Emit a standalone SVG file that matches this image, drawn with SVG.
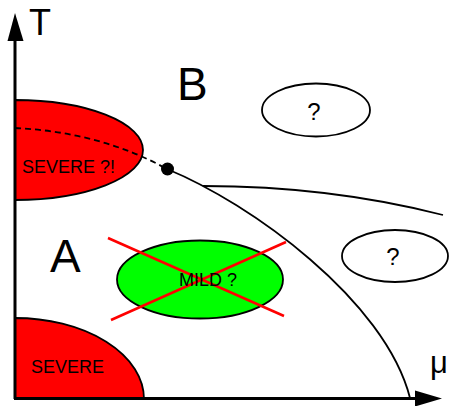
<svg xmlns="http://www.w3.org/2000/svg" width="451" height="406" viewBox="0 0 451 406">
<style>
text{font-family:"Liberation Sans",Arial,sans-serif;fill:#000}
.ln{fill:none;stroke:#000;stroke-width:1.8}
.ax{fill:none;stroke:#000;stroke-width:3}
.cross{stroke:#ff0000;stroke-width:2.5}
.lbl{font-size:18px}
.q{font-size:24px;text-anchor:middle}
.big{font-size:46px}
</style>
<rect width="451" height="406" fill="#fff"/>
<g id="severe-top">
<path d="M15,100 A128,50 0 0 1 15,200 Z" fill="#ff0000" stroke="#000" stroke-width="1.8"/>
<text class="lbl" x="22" y="173">SEVERE ?!</text>
</g>
<g id="severe-bottom">
<path d="M15,318 A129,81 0 0 1 144,399 L15,399 Z" fill="#ff0000" stroke="#000" stroke-width="1.8"/>
<text class="lbl" x="31" y="373">SEVERE</text>
</g>
<g id="mild">
<ellipse cx="200" cy="279.5" rx="83" ry="39" fill="#00ff00" stroke="#000" stroke-width="1.8"/>
<line class="cross" x1="108" y1="238" x2="284" y2="316"/>
<line class="cross" x1="111" y1="320" x2="286" y2="242"/>
<text class="lbl" x="179" y="286">MILD ?</text>
</g>
<g id="q-upper">
<ellipse cx="316" cy="110" rx="54" ry="26.5" fill="#fff" stroke="#000" stroke-width="1.8"/>
<text class="q" x="314" y="120">?</text>
</g>
<g id="q-lower">
<ellipse cx="395" cy="256" rx="53" ry="26" fill="#fff" stroke="#000" stroke-width="1.8"/>
<text class="q" x="393" y="265">?</text>
</g>
<g id="connectors">
<path class="ln" d="M15,128 Q100,132 167,169" stroke-dasharray="6,4"/>
<path class="ln" d="M167,169 C250,203 385,300 410,398"/>
<path class="ln" d="M203,186 Q330,186 443,215"/>
<circle cx="167.5" cy="169" r="6.5" fill="#000"/>
</g>
<g id="axes">
<line class="ax" x1="15" y1="399" x2="15" y2="38"/>
<polygon points="15,13 23.5,41 7.5,41" fill="#000"/>
<line class="ax" x1="14" y1="398.5" x2="418" y2="398.5"/>
<polygon points="442,398.5 415,390.5 415,406.5" fill="#000"/>
<text x="29" y="35" font-size="36">T</text>
<text x="430" y="373" font-size="31">μ</text>
</g>
<g id="regions">
<text class="big" x="177" y="100">B</text>
<text class="big" x="50" y="272">A</text>
</g>
</svg>
